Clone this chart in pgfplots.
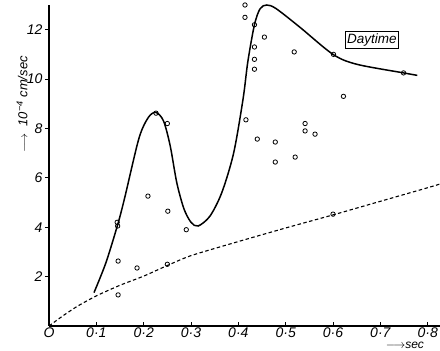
\documentclass[border=0pt]{standalone}
\usepackage{pgfplots}
\pgfplotsset{compat=1.18}
\usepackage{fontspec}
\setmainfont{Liberation Sans}
\begin{document}
\begin{tikzpicture}[x=1pt,y=1pt]
\begin{axis}[
  at={(49pt,25pt)}, anchor=south west,
  scale only axis, width=391pt, height=321pt,
  xmin=0, xmax=0.826, ymin=0, ymax=13.0,
  axis x line=bottom, axis y line=left,
  axis line style={-, line width=1.1pt},
  xtick={0,0.1,0.2,0.3,0.4,0.5,0.6,0.7,0.8},
  xticklabels={O,0·1,0·2,0·3,0·4,0·5,0·6,0·7,0·8},
  ytick={2,4,6,8,10,12},
  yticklabels={2,4,6,8,10,12},
  tick align=inside,
  major tick length=4pt,
  tick style={black, line width=0.8pt},
  y tick style={xshift=-4pt},
  tick label style={font=\fontsize{14}{16}\selectfont\itshape},
  x tick label style={yshift=2pt},
  y tick label style={xshift=-3pt},
  clip=false,
]
% solid curve
\addplot[black, line width=1.5pt, smooth, tension=0.5] coordinates {
(0.095,1.35) (0.12,2.55) (0.145,4.1) (0.16,5.2) (0.19,7.6) (0.21,8.45)
(0.226,8.65) (0.242,8.3) (0.256,7.3) (0.27,5.8) (0.285,4.75) (0.3,4.2)
(0.315,4.05) (0.34,4.45) (0.365,5.4) (0.39,7.0) (0.41,9.2) (0.42,10.7)
(0.434,12.2) (0.446,12.85) (0.46,13.0) (0.48,12.85) (0.53,12.1)
(0.6,11.0) (0.65,10.6) (0.749,10.25) (0.778,10.15)
};
% dashed curve
\addplot[black, line width=1.1pt, dash pattern=on 3.5pt off 2.5pt, smooth, tension=0.4] coordinates {
(0,0) (0.03,0.42) (0.06,0.8) (0.1,1.22) (0.15,1.65) (0.2,2.02) (0.25,2.45)
(0.3,2.85) (0.4,3.42) (0.5,3.97) (0.6,4.5) (0.7,5.05) (0.8,5.6) (0.826,5.75)
};
% observations
\addplot[only marks, mark=o, mark size=2.2pt, mark options={line width=0.8pt, black}] coordinates {
(0.144,4.2) (0.145,4.05) (0.146,2.63) (0.146,1.26) (0.186,2.35)
(0.209,5.26) (0.226,8.62) (0.25,8.2) (0.25,2.5) (0.251,4.65) (0.29,3.9)
(0.414,13.0) (0.414,12.5) (0.434,12.2) (0.455,11.7) (0.434,11.3)
(0.434,10.8) (0.434,10.4) (0.518,11.1) (0.601,11.0) (0.749,10.25)
(0.622,9.3) (0.416,8.35) (0.541,8.2) (0.541,7.9) (0.562,7.77)
(0.44,7.57) (0.478,7.45) (0.478,6.64) (0.52,6.84) (0.6,4.53)
};
\node[draw, line width=0.7pt, inner sep=2pt, font=\fontsize{13.5}{15}\selectfont\itshape]
  at (axis cs:0.682,11.6) {Daytime};
\node[rotate=90, font=\fontsize{13}{15}\selectfont\itshape]
  at (axis description cs:-0.069,0.69) {$\longrightarrow$\ \ 10\textsuperscript{−4} cm/sec};
\node[anchor=south west, inner sep=0.5pt, font=\fontsize{12}{13}\selectfont\itshape]
  at (axis description cs:0.86,-0.074) {$\longrightarrow$sec};
\end{axis}
\pgfresetboundingbox
\path[use as bounding box] (0,0) rectangle (440pt,351pt);
\end{tikzpicture}
\end{document}
